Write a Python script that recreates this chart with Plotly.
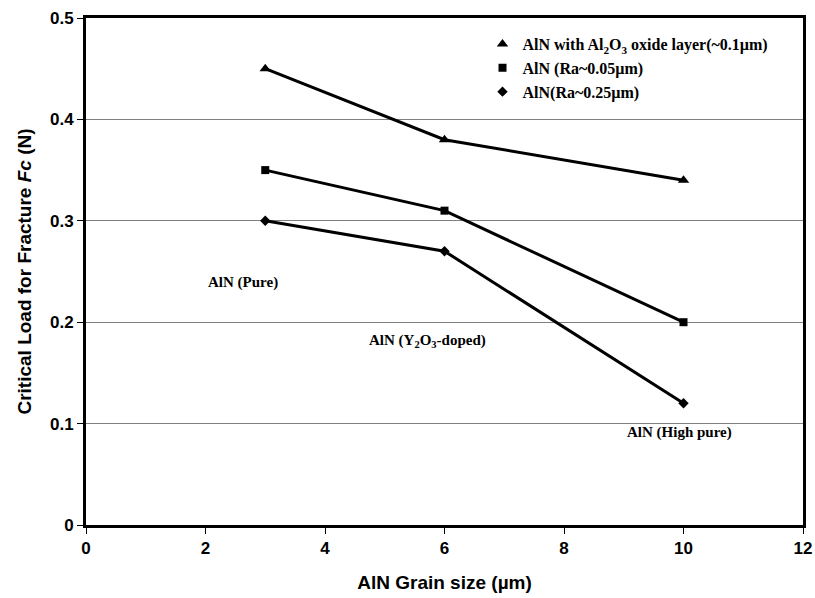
import plotly.graph_objects as go

grain_size = [3, 6, 10]
oxide_layer = [0.45, 0.38, 0.34]
ra_005 = [0.35, 0.31, 0.20]
ra_025 = [0.30, 0.27, 0.12]

series_names = [
    "AlN with Al<sub>2</sub>O<sub>3</sub> oxide layer(~0.1µm)",
    "AlN (Ra~0.05µm)",
    "AlN(Ra~0.25µm)",
]
x_ticks = [0, 2, 4, 6, 8, 10, 12]
y_ticks = [0, 0.1, 0.2, 0.3, 0.4, 0.5]
y_tick_text = ["0", "0.1", "0.2", "0.3", "0.4", "0.5"]

fig = go.Figure()
specs = [
    (oxide_layer, series_names[0], "triangle-up", 10),
    (ra_005, series_names[1], "square", 8),
    (ra_025, series_names[2], "diamond", 8),
]
for vals, name, sym, sz in specs:
    fig.add_trace(go.Scatter(
        x=grain_size, y=vals, name=name, mode="lines+markers", showlegend=False,
        line=dict(color="black", width=3),
        marker=dict(symbol=sym, size=sz, color="black"),
    ))
# legend entries: markers only, as in the reference
for vals, name, sym, sz in specs:
    fig.add_trace(go.Scatter(
        x=[None], y=[None], name=name, mode="markers", showlegend=True,
        marker=dict(symbol=sym, size=sz, color="black"),
    ))

ann_font = dict(family="Liberation Serif", size=15, color="black")
fig.add_annotation(x=2.63, y=0.239, text="<b>AlN (Pure)</b>", showarrow=False,
                   xanchor="center", yanchor="middle", font=ann_font)
fig.add_annotation(x=5.72, y=0.181, text="<b>AlN (Y<sub>2</sub>O<sub>3</sub>-doped)</b>", showarrow=False,
                   xanchor="center", yanchor="middle", font=ann_font)
fig.add_annotation(x=9.94, y=0.091, text="<b>AlN (High pure)</b>", showarrow=False,
                   xanchor="center", yanchor="middle", font=ann_font)

fig.update_layout(
    width=815, height=598,
    margin=dict(l=86, r=12, t=18, b=73),
    plot_bgcolor="white", paper_bgcolor="white",
    showlegend=True,
    legend=dict(
        x=0.553, y=0.982, xanchor="left", yanchor="top",
        bgcolor="rgba(0,0,0,0)",
        font=dict(family="Liberation Serif", size=16, color="black", weight="bold"),
        itemwidth=30, tracegroupgap=0,
    ),
    xaxis=dict(
        range=[0, 12], tickvals=x_ticks, ticks="outside", ticklen=6, tickcolor="black",
        tickwidth=1, showgrid=False, zeroline=False, automargin=False,
        showline=True, linecolor="black", linewidth=3, mirror=True,
        tickfont=dict(family="Liberation Sans", size=17, color="black", weight="bold"),
        title=dict(text="<b>AlN Grain size (µm)</b>", font=dict(family="Liberation Sans", size=19, color="black"), standoff=19),
    ),
    yaxis=dict(
        range=[0, 0.5], tickvals=y_ticks, ticktext=y_tick_text, ticks="outside", ticklen=6,
        tickcolor="black", tickwidth=1, automargin=False,
        showgrid=True, gridcolor="#808080", gridwidth=1, zeroline=False,
        showline=True, linecolor="black", linewidth=3, mirror=True,
        tickfont=dict(family="Liberation Sans", size=17, color="black", weight="bold"),
        title=dict(text="<b>Critical Load for Fracture <i>Fc</i> (N)</b>", font=dict(family="Liberation Sans", size=19, color="black"), standoff=14),
    ),
)
fig.write_html("out.html")
